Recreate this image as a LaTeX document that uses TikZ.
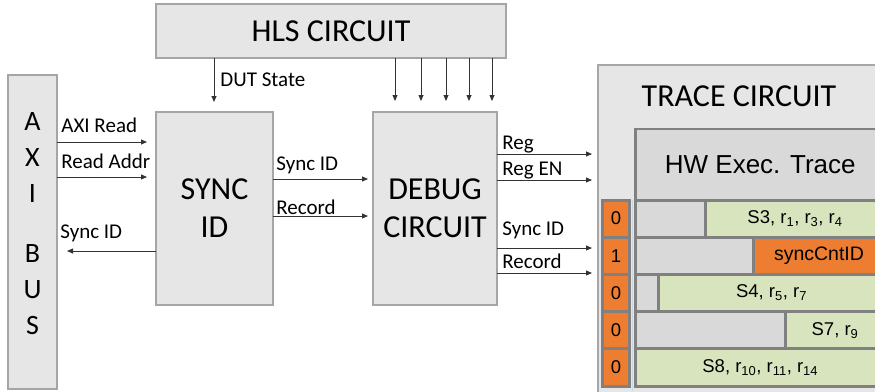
\documentclass[tikz,border=0pt]{standalone}
\usepackage{fontspec}
\setmainfont{Carlito}
\newfontfamily\arialfont{Liberation Sans}
\usepackage{tikz}
\usetikzlibrary{positioning, arrows.meta}

\definecolor{boxfill}{HTML}{E6E6E6}
\definecolor{boxline}{HTML}{A6A6A6}
\definecolor{cellline}{HTML}{808080}
\definecolor{hdrgray}{HTML}{D9D9D9}
\definecolor{idlegray}{HTML}{D9D9D9}
\definecolor{hitgreen}{HTML}{D8E4BE}
\definecolor{bitorange}{HTML}{ED7D31}
\definecolor{guideblue}{HTML}{C8D6DF}

\begin{document}
\begin{tikzpicture}[
        x=1pt, y=-1pt,
        >={Triangle[length=6pt, width=5pt]},
        box/.style={rectangle, draw=boxline, fill=boxfill, line width=1.2pt, anchor=north west, inner sep=0pt, outer sep=0pt, align=center, font=\fontsize{32}{38}\selectfont},
        lbl/.style={anchor=base west, inner sep=0pt, font=\fontsize{21}{25}\selectfont},
        sig/.style={->, line width=0.8pt, draw=black!80},
        cell/.style={rectangle, draw=cellline, line width=3pt, anchor=north west, inner sep=0pt, outer sep=0pt, minimum height=37.2pt, font=\arialfont\fontsize{18.5}{22}\selectfont},
        bitcell/.style={cell, fill=bitorange, minimum width=27pt},
        idle/.style={cell, fill=idlegray},
        hit/.style={cell, fill=hitgreen},
        cnt/.style={cell, fill=bitorange}
    ]
        \clip (0,0) rectangle (875,391);

        % Blocks
        \node[box, minimum width=350pt, minimum height=54pt] (hls) at (156,4) {HLS CIRCUIT};
        \node[box, minimum width=49pt, minimum height=314pt,
              label={[font=\fontsize{28}{36}\selectfont, align=center, yshift=8.5pt]center:A\\X\\I\\[24pt]B\\U\\S}] (axi) at (8,75) {};
        \node[box, minimum width=117pt, minimum height=193pt] (sync) at (156,112) {SYNC\\ID};
        \node[box, minimum width=124pt, minimum height=193pt] (debug) at (373,112) {DEBUG\\CIRCUIT};
        \node[box, minimum width=300pt, minimum height=340pt] (trace) at (598,65) {};
        \node[anchor=base, font=\fontsize{32}{38}\selectfont] (tracettl) at (739,106) {TRACE CIRCUIT};

        % Trace table
        \node[cell, fill=hdrgray, line width=2.5pt, minimum width=249.5pt, minimum height=71pt,
              font=\arialfont\fontsize{26}{30}\selectfont] (hdr) at (635.5,129) {HW Exec. Trace};
        \draw[guideblue, line width=0.8pt] ([xshift=-2.8pt]hdr.south west) -- ([xshift=-2.8pt]hdr.south west |- 0,391);

        \node[bitcell] (b1) at (602.5,200) {0};
        \node[bitcell, below=0pt of b1] (b2) {1};
        \node[bitcell, below=0pt of b2] (b3) {0};
        \node[bitcell, below=0pt of b3] (b4) {0};
        \node[bitcell, below=0pt of b4] (b5) {0};

        \node[idle, minimum width=69.5pt] (g1) at (635.5,200) {};
        \node[hit, minimum width=180pt, right=0pt of g1] (s1) {S3, r\textsubscript{1}, r\textsubscript{3}, r\textsubscript{4}};
        \node[idle, minimum width=117.5pt] (g2) at (635.5,237.2) {};
        \node[cnt, minimum width=132pt, right=0pt of g2, font=\arialfont\fontsize{19.5}{22}\selectfont] (s2) {syncCntID};
        \node[idle, minimum width=22.5pt] (g3) at (635.5,274.4) {};
        \node[hit, minimum width=227pt, right=0pt of g3] (s3) {S4, r\textsubscript{5}, r\textsubscript{7}};
        \node[idle, minimum width=149.5pt] (g4) at (635.5,311.6) {};
        \node[hit, minimum width=100pt, right=0pt of g4] (s4) {S7, r\textsubscript{9}};
        \node[hit, minimum width=249.5pt] (s5) at (635.5,348.8) {S8, r\textsubscript{10}, r\textsubscript{11}, r\textsubscript{14}};

        % Signals
        \draw[sig, shorten >=10pt] (hls.south -| 214,0) -- (sync.north -| 214,0)
            node[lbl, pos=0, xshift=6pt, yshift=-28pt] {DUT State};
        \foreach \x in {395,421,446,469,492}
            \draw[sig, shorten >=11pt] (hls.south -| \x,0) -- (debug.north -| \x,0);

        \draw[sig, shorten >=9pt] (axi.east |- 0,142) -- (sync.west |- 0,142)
            node[lbl, pos=0, xshift=4pt, yshift=10pt] {AXI Read};
        \draw[sig, shorten >=9pt] (axi.east |- 0,177) -- (sync.west |- 0,177)
            node[lbl, pos=0, xshift=4pt, yshift=9pt] {Read Addr};
        \draw[sig, shorten >=10pt] (sync.west |- 0,251) -- (axi.east |- 0,251)
            node[lbl, pos=1, xshift=3pt, yshift=13pt] {Sync ID};

        \draw[sig, shorten >=5pt] (sync.east |- 0,179) -- (debug.west |- 0,179)
            node[lbl, pos=0, xshift=3pt, yshift=9pt] {Sync ID};
        \draw[sig, shorten >=5pt] (sync.east |- 0,216) -- (debug.west |- 0,216)
            node[lbl, pos=0, xshift=3pt, yshift=2pt] {Record};

        \draw[sig, shorten >=6pt] (debug.east |- 0,154) -- (trace.west |- 0,154)
            node[lbl, pos=0, xshift=5pt, yshift=5pt] {Reg};
        \draw[sig, shorten >=6pt] (debug.east |- 0,180) -- (trace.west |- 0,180)
            node[lbl, pos=0, xshift=5pt, yshift=5pt] {Reg EN};
        \draw[sig, shorten >=6pt] (debug.east |- 0,248) -- (trace.west |- 0,248)
            node[lbl, pos=0, xshift=5pt, yshift=13pt] {Sync ID};
        \draw[sig, shorten >=6pt] (debug.east |- 0,273) -- (trace.west |- 0,273)
            node[lbl, pos=0, xshift=5pt, yshift=5pt] {Record};
    \end{tikzpicture}
\end{document}
